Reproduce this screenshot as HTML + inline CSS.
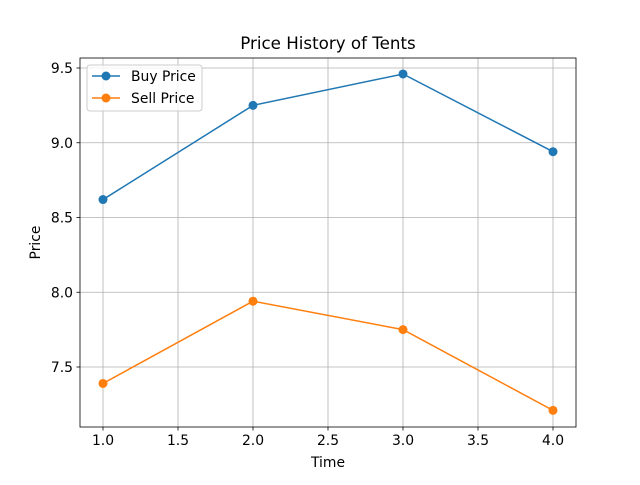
<!DOCTYPE html>
<html><head><meta charset="utf-8"><style>
body{margin:0;background:#fff}
svg text{font-family:"DejaVu Sans","Liberation Sans",sans-serif;fill:#000}
</style></head><body>
<svg id="chart" width="640" height="480" xmlns="http://www.w3.org/2000/svg">
<rect width="640" height="480" fill="#fff"/>
<text x="328" y="49" font-size="16.7" text-anchor="middle">Price History of Tents</text>
<g id="grid"></g>
<g id="ticks"></g>
<g id="series"></g>
<rect x="80" y="58" width="496" height="369" fill="none" stroke="#000" stroke-width="0.8"/>
<text x="328" y="467" font-size="13.9" text-anchor="middle">Time</text>
<text transform="translate(40,242.5) rotate(-90)" font-size="13.9" text-anchor="middle">Price</text>
<g>
<rect x="87" y="65" width="115" height="46" rx="3" fill="#fff" fill-opacity="0.8" stroke="#ccc"/>
<line x1="92" y1="76" x2="120" y2="76" stroke="#1f77b4" stroke-width="1.5"/>
<circle cx="106" cy="76" r="4.5" fill="#1f77b4"/>
<text x="131" y="81" font-size="13.9">Buy Price</text>
<line x1="92" y1="98" x2="120" y2="98" stroke="#ff7f0e" stroke-width="1.5"/>
<circle cx="106" cy="98" r="4.5" fill="#ff7f0e"/>
<text x="131" y="103" font-size="13.9">Sell Price</text>
</g>
</svg>
<script>
const times=[1,2,3,4];
const buyPrices=[8.62,9.25,9.46,8.94];
const sellPrices=[7.39,7.94,7.75,7.21];
const xTicks=["1.0","1.5","2.0","2.5","3.0","3.5","4.0"];
const yTicks=["7.5","8.0","8.5","9.0","9.5"];
const NS="http://www.w3.org/2000/svg";
function xs(v){return 103+(v-1)*150;}
function ys(v){return 367-(v-7.5)*149.5;}
function mk(tag,attrs,parent){const e=document.createElementNS(NS,tag);for(const k in attrs)e.setAttribute(k,attrs[k]);parent.appendChild(e);return e;}
const grid=document.getElementById('grid'),ticks=document.getElementById('ticks'),series=document.getElementById('series');
xTicks.forEach(t=>{const x=xs(parseFloat(t));
const g=mk('line',{x1:x,x2:x,y1:58,y2:427,stroke:'#b0b0b0','stroke-width':0.8},grid);


mk('line',{x1:x,x2:x,y1:427,y2:430.5,stroke:'#000','stroke-width':0.8},ticks);
const tx=mk('text',{x:x,y:445,'font-size':13.9,'text-anchor':'middle'},ticks);tx.textContent=t;

});
yTicks.forEach(t=>{const y=ys(parseFloat(t));
const g=mk('line',{x1:80,x2:576,y1:y,y2:y,stroke:'#b0b0b0','stroke-width':0.8},grid);


mk('line',{x1:76.5,x2:80,y1:y,y2:y,stroke:'#000','stroke-width':0.8},ticks);
const tx=mk('text',{x:73,y:y+5,'font-size':13.9,'text-anchor':'end'},ticks);tx.textContent=t;

});
function draw(vals,color,name){
const pl=mk('polyline',{points:vals.map((v,i)=>xs(times[i])+','+ys(v)).join(' '),fill:'none',stroke:color,'stroke-width':1.5},series);


vals.forEach((v,i)=>{const c=mk('circle',{cx:xs(times[i]),cy:ys(v),r:4.5,fill:color},series);

});}
draw(buyPrices,'#1f77b4','buy-price');
draw(sellPrices,'#ff7f0e','sell-price');
</script>
</body></html>
